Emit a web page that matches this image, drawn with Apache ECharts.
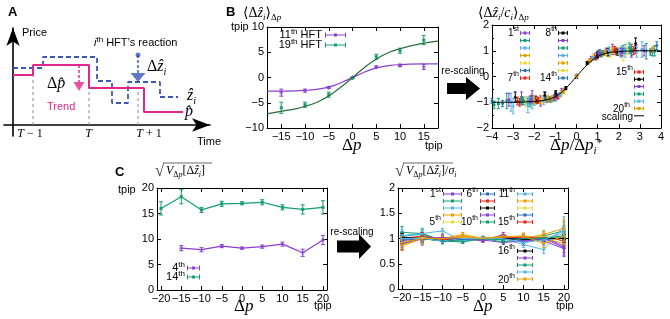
<!DOCTYPE html>
<html><head><meta charset="utf-8">
<script src="https://cdn.jsdelivr.net/npm/echarts@6/dist/echarts.min.js"></script>
<style>html,body{margin:0;padding:0;background:#fff}#c{width:670px;height:319px}</style>
</head><body><div id="c"></div>
<script>
// ================= DATA =================
// Panel A (schematic, time units / price units)
const trendPath    = [[0,5.0],[1.0,6.0],[3.8,3.7],[6.55,1.3],[8.5,1.3]];
const reactionPath = [[0,5.7],[1.5,6.8],[4.2,4.4],[4.95,2.2],[5.75,4.3],[7.35,2.8],[8.25,2.8]];
const timeMarks    = [1.0, 3.8, 6.25];
const timeGuideTop = [5.0, 3.7, 3.7];
const timeLabelPos = [0.85, 3.78, 6.8];
const timeLabels   = ['T − 1', 'T', 'T + 1'];
const dpArrow      = [[3.3,6.0],[3.3,4.3]];
const dpArrowHead  = [[3.3,3.85]];
const dzArrow      = [[6.25,7.0],[6.25,5.1]];
const dzArrowHead  = [[6.25,4.75]];

// Panel B left
const dpB      = [-15,-10,-5,0,5,10,15];
const hft11    = [-3.0,-2.6,-2.0,0.0,2.1,2.4,2.1];
const hft11Err = [0.7,0.3,0.2,0.1,0.2,0.25,0.5];
const hft19    = [-6.0,-5.4,-3.4,-0.1,4.1,5.3,7.4];
const hft19Err = [1.1,0.5,0.5,0.15,0.5,0.5,0.9];
const fitX     = [-18,-15,-12,-10,-8,-6,-4,-2,0,2,4,6,8,10,12,15,18];
const fit11    = [-2.7,-2.7,-2.65,-2.55,-2.4,-2.1,-1.6,-0.85,0,0.85,1.6,2.1,2.4,2.55,2.65,2.7,2.7];
const fit19    = [-7.2,-6.7,-6.2,-5.7,-5.1,-4.2,-3.0,-1.6,0,1.6,3.0,4.2,5.1,5.7,6.2,6.8,7.2];
const tickB    = [-15,-10,-5,0,5,10,15];

// Panel B right: [x = dp/dp*, y, err] per HFT (1st..20th)
const rescaledPoints = [
 [[-2.6,-0.85,0.25],[-1.7,-0.95,0.2],[-0.85,-0.75,0.1],[0,0.02,0.05],[0.85,0.8,0.1],[1.7,1.05,0.2],[2.6,1.0,0.25]],
 [[-3.7,-1.05,0.2],[-2.5,-0.95,0.15],[-1.2,-0.9,0.1],[0,-0.02,0.05],[1.2,0.9,0.1],[2.5,1.1,0.2],[3.7,1.0,0.2]],
 [[-3.1,-1.0,0.35],[-2.1,-1.05,0.2],[-1.0,-0.8,0.12],[0,0.0,0.04],[1.0,0.88,0.12],[2.1,0.95,0.2],[3.1,1.05,0.3]],
 [[-1.9,-0.92,0.15],[-1.25,-0.88,0.1],[-0.62,-0.6,0.07],[0,0.0,0.03],[0.62,0.62,0.07],[1.25,0.9,0.1],[1.9,0.98,0.15]],
 [[-2.2,-0.95,0.2],[-1.45,-0.9,0.12],[-0.73,-0.7,0.08],[0,0.01,0.03],[0.73,0.7,0.08],[1.45,0.9,0.12],[2.2,0.85,0.25]],
 [[-4.0,-0.95,0.1],[-2.6,-0.9,0.12],[-1.3,-0.88,0.08],[0,0,0.03],[1.3,0.92,0.08],[2.6,0.95,0.12],[3.8,1.2,0.15]],
 [[-2.8,-0.95,0.15],[-1.85,-0.92,0.12],[-0.92,-0.78,0.08],[0,0.02,0.03],[0.92,0.72,0.08],[1.85,0.98,0.12],[2.8,1.05,0.15]],
 [[-2.9,-0.8,0.2],[-1.95,-0.88,0.12],[-0.98,-0.65,0.1],[0,-0.02,0.03],[0.98,0.85,0.1],[1.95,0.95,0.12],[2.8,1.3,0.2]],
 [[-2.1,-0.75,0.2],[-1.4,-0.9,0.1],[-0.7,-0.55,0.08],[0,0.05,0.03],[0.7,0.7,0.08],[1.4,1.0,0.1],[2.1,0.95,0.15]],
 [[-3.3,-0.95,0.3],[-2.2,-0.98,0.2],[-1.1,-0.85,0.1],[0,0,0.04],[1.1,0.95,0.1],[2.2,1.05,0.15],[3.3,0.98,0.3]],
 [[-3.0,-1.15,0.3],[-2.0,-0.97,0.15],[-1.0,-0.86,0.1],[0,0.0,0.04],[1.0,0.78,0.1],[2.0,0.98,0.12],[2.85,0.95,0.2]],
 [[-1.7,-0.95,0.12],[-1.15,-0.85,0.1],[-0.57,-0.5,0.06],[0,0.03,0.03],[0.57,0.55,0.06],[1.15,0.85,0.1],[1.7,1.0,0.12]],
 [[-2.4,-0.98,0.2],[-1.6,-0.88,0.15],[-0.8,-0.75,0.08],[0,0.0,0.03],[0.8,0.8,0.08],[1.6,0.9,0.15],[2.4,1.05,0.2]],
 [[-3.5,-1.05,0.12],[-2.3,-0.95,0.1],[-1.5,-0.72,0.1],[0,0,0.03],[1.15,0.85,0.08],[2.3,1.0,0.1],[3.5,0.95,0.12]],
 [[-2.7,-1.0,0.15],[-1.8,-0.93,0.1],[-0.9,-0.8,0.08],[0,0,0.03],[0.9,0.75,0.08],[1.8,1.05,0.12],[2.7,1.0,0.15]],
 [[-1.5,-0.75,0.15],[-1.0,-0.7,0.1],[-0.5,-0.45,0.06],[0,0,0.03],[0.5,0.52,0.06],[1.0,0.82,0.1],[1.5,0.95,0.15]],
 [[-3.2,-0.9,0.25],[-2.15,-0.88,0.15],[-1.05,-0.82,0.1],[0,0,0.04],[1.05,0.9,0.1],[2.15,0.95,0.15],[3.2,1.0,0.2]],
 [[-3.9,-1.1,0.15],[-2.6,-0.95,0.12],[-1.3,-0.9,0.08],[0,0,0.03],[1.3,0.9,0.08],[2.6,1.05,0.12],[3.6,0.95,0.15]],
 [[-2.3,-1.1,0.3],[-1.55,-0.95,0.15],[-0.78,-0.7,0.08],[0,0,0.04],[0.78,0.7,0.08],[1.55,1.0,0.15],[2.3,1.0,0.25]],
 [[-2.0,-0.9,0.15],[-1.35,-0.85,0.1],[-0.67,-0.6,0.06],[0,0.02,0.03],[0.67,0.62,0.06],[1.35,0.92,0.1],[3.6,1.05,0.1]]
];
const scalingX = [-4,-3,-2.5,-2,-1.5,-1,-0.5,0,0.5,1,1.5,2,2.5,3,4];
const scalingY = [-1,-1,-0.99,-0.97,-0.92,-0.78,-0.45,0,0.45,0.78,0.92,0.97,0.99,1,1];

// Panel C left
const dpC      = [-20,-15,-10,-5,0,5,10,15,20];
const vol14    = [16.0,18.3,15.7,16.9,17.0,17.2,16.2,15.8,16.2];
const vol14Err = [1.3,1.4,0.5,0.5,0.3,0.5,0.5,0.9,1.3];
const vol4     = [null,8.2,7.9,8.6,8.2,8.5,9.0,7.3,9.8];
const vol4Err  = [null,0.5,0.4,0.3,0.2,0.3,0.4,0.7,0.9];
const tickC    = [-20,-15,-10,-5,0,5,10,15,20];

// Panel C right (normalised), one row per HFT
const normVol = [
 [0.95,1.02,1.0,1.03,0.98,1.05,1.0,0.95,0.8],
 [1.12,1.1,0.95,0.97,1.0,0.98,0.99,1.05,1.15],
 [1.05,1.08,0.93,1.0,1.0,1.02,0.95,0.98,1.1],
 [0.85,1.0,1.0,1.05,1.0,1.03,1.05,1.0,0.9],
 [1.0,0.98,0.97,1.02,1.0,1.0,1.02,1.05,0.95],
 [0.9,1.05,0.95,1.0,1.0,1.0,1.0,1.0,1.05],
 [1.0,1.0,0.98,1.0,1.0,1.02,1.0,1.05,0.95],
 [1.03,1.0,0.97,1.0,1.0,1.0,0.97,1.0,1.0],
 [1.0,0.97,1.02,1.0,0.95,1.08,0.92,1.02,0.85],
 [1.05,1.1,0.95,0.95,1.0,0.97,1.0,1.02,1.0],
 [1.05,1.1,1.15,0.95,1.02,1.0,0.88,0.78,1.25],
 [0.88,1.0,1.0,1.08,1.0,1.05,1.0,1.08,1.2],
 [1.0,1.02,0.98,1.02,1.0,1.0,1.0,1.05,1.0],
 [0.98,1.0,1.0,0.98,1.0,1.0,1.0,0.97,1.02],
 [1.0,1.05,0.98,1.0,1.0,1.0,1.03,1.0,1.0],
 [1.02,1.0,0.95,1.0,1.0,1.0,0.98,1.0,1.0],
 [0.9,1.0,1.02,1.0,0.97,0.92,0.95,1.0,0.82],
 [1.0,1.0,0.95,0.93,1.0,0.93,1.0,1.0,1.05],
 [1.0,1.0,0.95,1.0,1.0,1.0,0.92,0.97,1.15],
 [0.92,1.0,1.0,1.03,1.0,1.03,1.05,0.9,1.05]
];
const normErrA = [0.08,0.07,0.04,0.03,0.03,0.03,0.04,0.06,0.08];
const normErrB = [0.12,0.1,0.05,0.04,0.03,0.04,0.06,0.08,0.18];
const normErrSet = [0,1,0,0,0,0,0,0,1,0,1,1,0,0,0,0,1,0,0,1];

// ================= STYLE =================
const FS = 'Liberation Sans, Arial, Helvetica, sans-serif';
const SERIF = 'Liberation Serif, DejaVu Serif, Times New Roman, serif';
const pal = ['#8a3fd1','#139e73','#56b4e9','#e69f00','#e8da3c','#2d72b8','#e5251a','#000000'];
const markers = ['plus','rect','rect','rect','rect','circle','circle','triangle','plus','tridown','plus','circle','plus','circle','circle','circle','circle','circle','rect','circle'];
const MAGENTA = '#e3268b', BLUE = '#3a58b5';

const minus = v => String(v).replace('-', '−');

// ================= AXES =================
const xAxes = [], yAxes = [];
function tickFmt(v) { return minus(Math.round(v * 100) / 100); }
function boxAxes(gi, xr, yr) {
  const base = (pos, r, labeled) => {
    const ax = {
      gridIndex: gi, type: 'value', position: pos, min: r.min, max: r.max,
      axisLine: { onZero: false, lineStyle: { color: '#000', width: 1 } },
      axisTick: { inside: true, length: 4, lineStyle: { color: '#000', width: 1 } },
      axisLabel: { show: labeled, color: '#000', fontSize: 11, fontFamily: FS, margin: 3, formatter: tickFmt },
      splitLine: { show: false }
    };
    if (r.custom) { ax.axisTick.customValues = r.custom; ax.axisLabel.customValues = r.custom; }
    else ax.interval = r.interval;
    if (r.minor) ax.minorTick = { show: true, splitNumber: r.minor, length: 2, lineStyle: { color: '#000' } };
    return ax;
  };
  const xi = xAxes.length, yi = yAxes.length;
  xAxes.push(base('bottom', xr, true), base('top', xr, false));
  yAxes.push(base('left', yr, true), base('right', yr, false));
  return { xi, yi };
}

// Panel A axes
xAxes.push({
  gridIndex: 0, type: 'value', min: -0.45, max: 9.85,
  axisLine: { onZero: true, symbol: ['none', 'arrow'], symbolSize: [10, 18], lineStyle: { color: '#000', width: 1.6 } },
  axisTick: { show: false }, splitLine: { show: false },
  axisLabel: { customValues: timeLabelPos, margin: -8, color: '#000',
    formatter: v => { const i = timeLabelPos.indexOf(v); if (i < 0) return ''; const s = timeLabels[i]; return '{i|T}' + (s.length > 1 ? '{u|' + s.slice(1) + '}' : ''); },
    rich: { i: { fontFamily: SERIF, fontStyle: 'italic', fontSize: 12 }, u: { fontFamily: SERIF, fontSize: 12 } } }
});
yAxes.push({
  gridIndex: 0, type: 'value', min: -1.1, max: 9.7,
  axisLine: { onZero: true, symbol: ['none', 'arrow'], symbolSize: [10, 18], lineStyle: { color: '#000', width: 1.6 } },
  axisTick: { show: false }, splitLine: { show: false }, axisLabel: { show: false }
});

const axBL = boxAxes(1, { min: -18, max: 18, custom: tickB }, { min: -10, max: 10, interval: 5 });
const axBR = boxAxes(2, { min: -4, max: 4, interval: 1 }, { min: -2, max: 2, interval: 1, minor: 2 });
const axCL = boxAxes(3, { min: -21, max: 21, custom: tickC }, { min: 0, max: 20, interval: 5 });
const axCR = boxAxes(4, { min: -21, max: 21, custom: tickC }, { min: 0, max: 2, interval: 0.5 });

// ================= SERIES HELPERS =================
function markerShape(type, c, s, col) {
  const h = s / 2;
  switch (type) {
    case 'circle': return { type: 'circle', shape: { cx: c[0], cy: c[1], r: h }, style: { fill: col } };
    case 'triangle': return { type: 'polygon', shape: { points: [[c[0], c[1] - h - 0.5], [c[0] + h + 0.5, c[1] + h], [c[0] - h - 0.5, c[1] + h]] }, style: { fill: col } };
    case 'tridown': return { type: 'polygon', shape: { points: [[c[0], c[1] + h + 0.5], [c[0] + h + 0.5, c[1] - h], [c[0] - h - 0.5, c[1] - h]] }, style: { fill: col } };
    case 'plus': return { type: 'path', shape: { pathData: `M${c[0]-h-0.5},${c[1]}H${c[0]+h+0.5}M${c[0]},${c[1]-h-0.5}V${c[1]+h+0.5}` }, style: { stroke: col, lineWidth: 1, fill: null } };
    default: return { type: 'rect', shape: { x: c[0] - h, y: c[1] - h, width: s, height: s }, style: { fill: col } };
  }
}
function errSeries(name, ax, data, color, marker, msize, capW) {
  return {
    type: 'custom', name, xAxisIndex: ax.xi, yAxisIndex: ax.yi, data, itemStyle: { color }, z: 3, clip: false,
    renderItem: (params, api) => {
      const x = api.value(0), y = api.value(1), e = api.value(2);
      const c = api.coord([x, y]), lo = api.coord([x, y - e]), hi = api.coord([x, y + e]);
      const col = api.visual('color');
      const st = { stroke: col, lineWidth: 1, fill: null };
      return { type: 'group', children: [
        { type: 'line', shape: { x1: c[0], y1: lo[1], x2: c[0], y2: hi[1] }, style: st },
        { type: 'line', shape: { x1: c[0] - capW, y1: lo[1], x2: c[0] + capW, y2: lo[1] }, style: st },
        { type: 'line', shape: { x1: c[0] - capW, y1: hi[1], x2: c[0] + capW, y2: hi[1] }, style: st },
        markerShape(marker, c, msize, col)
      ] };
    }
  };
}
const zip = (xs, ys, es) => xs.map((x, i) => ys[i] == null ? null : (es ? [x, ys[i], es[i]] : [x, ys[i]])).filter(d => d);

// legend icon: error-bar sample (box w x h, bounding forced by moveTo corners)
function ebIcon(w, h, capH) {
  const m = h / 2, c0 = m - capH / 2, c1 = m + capH / 2;
  return `path://M0,0M${w},${h}M0,${c0}H1V${c1}H0Z M${w-1},${c0}H${w}V${c1}H${w-1}Z M0,${m-0.5}H${w}V${m+0.5}H0Z M${w/2-1.5},${m-1.5}H${w/2+1.5}V${m+1.5}H${w/2-1.5}Z`;
}
function lineIcon(w, h) { const m = h / 2; return `path://M0,0M${w},${h}M0,${m-0.5}H${w}V${m+0.5}H0Z`; }

const series = [];
// ---- Panel A ----
const aAx = { xAxisIndex: 0, yAxisIndex: 0 };
timeMarks.forEach((t, i) => series.push(Object.assign({ type: 'line', data: [[t, 0], [t, timeGuideTop[i]]], symbol: 'none', silent: true,
  lineStyle: { color: '#8a8a8a', width: 1, type: [3, 3] } }, aAx)));
series.push(Object.assign({ type: 'line', name: 'reaction', data: reactionPath, step: 'end', symbol: 'none',
  lineStyle: { color: BLUE, width: 1.8, type: [5, 3] } }, aAx));
series.push(Object.assign({ type: 'line', name: 'trend', data: trendPath, step: 'end', symbol: 'none',
  lineStyle: { color: MAGENTA, width: 2 } }, aAx));
series.push(Object.assign({ type: 'line', data: dpArrow, symbol: 'none', lineStyle: { color: MAGENTA, width: 1.5, type: [3, 2] } }, aAx));
series.push(Object.assign({ type: 'scatter', data: dpArrowHead, symbol: 'triangle', symbolRotate: 180, symbolSize: [11, 9], itemStyle: { color: MAGENTA } }, aAx));
series.push(Object.assign({ type: 'line', data: dzArrow, symbol: 'none', lineStyle: { color: BLUE, width: 1.5, type: [3, 2] } }, aAx));
series.push(Object.assign({ type: 'scatter', data: [dzArrow[0]], symbol: 'circle', symbolSize: 5, itemStyle: { color: BLUE } }, aAx));
series.push(Object.assign({ type: 'scatter', data: dzArrowHead, symbol: 'triangle', symbolRotate: 180, symbolSize: [15, 9], itemStyle: { color: BLUE } }, aAx));

// ---- Panel B left ----
series.push({ type: 'line', name: '11th HFT', xAxisIndex: axBL.xi, yAxisIndex: axBL.yi, data: zip(fitX, fit11), smooth: 0.4, symbol: 'none', lineStyle: { color: pal[0], width: 1.2 }, itemStyle: { color: pal[0] } });
series.push({ type: 'line', name: '19th HFT', xAxisIndex: axBL.xi, yAxisIndex: axBL.yi, data: zip(fitX, fit19), smooth: 0.4, symbol: 'none', lineStyle: { color: '#2a6e35', width: 1.2 }, itemStyle: { color: pal[1] } });
series.push(errSeries('11th HFT', axBL, zip(dpB, hft11, hft11Err), pal[0], 'plus', 3, 2));
series.push(errSeries('19th HFT', axBL, zip(dpB, hft19, hft19Err), pal[1], 'rect', 3, 2));

// ---- Panel B right ----
rescaledPoints.forEach((pts, i) => series.push(errSeries('B' + (i + 1), axBR, pts, pal[i % 8], markers[i], 3, 1.5)));
series.push({ type: 'line', name: 'scaling', xAxisIndex: axBR.xi, yAxisIndex: axBR.yi, data: zip(scalingX, scalingY), smooth: 0.4, symbol: 'none', z: 4, lineStyle: { color: '#000', width: 1 }, itemStyle: { color: '#000' } });

// ---- Panel C left ----
[['4th', vol4, vol4Err, pal[0], 'plus'], ['14th', vol14, vol14Err, pal[1], 'rect']].forEach(([nm, ys, es, col, mk]) => {
  series.push({ type: 'line', name: nm, xAxisIndex: axCL.xi, yAxisIndex: axCL.yi, data: zip(dpC, ys), symbol: 'none', lineStyle: { color: col, width: 1.2 }, itemStyle: { color: col } });
  series.push(errSeries(nm, axCL, zip(dpC, ys, es), col, mk, 3, 2));
});

// ---- Panel C right ----
normVol.forEach((ys, i) => {
  const col = pal[i % 8], nm = 'C' + (i + 1);
  const es = normErrSet[i] ? normErrB : normErrA;
  series.push({ type: 'line', name: nm, xAxisIndex: axCR.xi, yAxisIndex: axCR.yi, data: zip(dpC, ys), symbol: 'none', lineStyle: { color: col, width: 1 }, itemStyle: { color: col } });
  series.push(errSeries(nm, axCR, zip(dpC, ys, es), col, markers[i], 3, 1.5));
});

// ================= LEGENDS (samples; labels drawn as rich text below) =================
function mkLegend(names, right, top, w, h, gap, iconFn) {
  return {
    data: names.map(n => ({ name: n, icon: n === 'scaling' ? lineIcon(w, h) : iconFn(n) })),
    orient: 'vertical', align: 'right', right, top, itemWidth: w, itemHeight: h, itemGap: gap, padding: 0,
    symbolKeepAspect: false, selectedMode: false, formatter: () => '', inactiveColor: '#000',
    textStyle: { fontSize: 1, lineHeight: 1 }
  };
}
const range = (p, a, b) => { const r = []; for (let i = a; i <= b; i++) r.push(p + i); return r; };
const legends = [
  mkLegend(['11th HFT', '19th HFT'], 670 - 346, 30, 21, 10, 0, () => ebIcon(21, 10, 5)),
  mkLegend(range('B', 1, 7), 670 - 530, 29.5, 10, 7, 0.5, () => ebIcon(10, 7, 4)),
  mkLegend(range('B', 8, 14), 670 - 568, 29.5, 10, 7, 0.5, () => ebIcon(10, 7, 4)),
  mkLegend(range('B', 15, 20).concat(['scaling']), 670 - 644, 68.5, 10, 7, 0.3, () => ebIcon(10, 7, 4)),
  mkLegend(['4th', '14th'], 670 - 200, 263.5, 13, 9, 0, () => ebIcon(13, 9, 5)),
  mkLegend(range('C', 1, 5), 670 - 462, 190.5, 19, 7, 0, () => ebIcon(19, 7, 4)),
  mkLegend(range('C', 6, 10), 670 - 495, 190.5, 15, 7, 0, () => ebIcon(15, 7, 4)),
  mkLegend(range('C', 11, 15), 670 - 533, 190.5, 16, 7, 0, () => ebIcon(16, 7, 4)),
  mkLegend(range('C', 16, 20), 670 - 533, 247.5, 16, 7, 0, () => ebIcon(16, 7, 4))
];
// legend labels: [right edge x, centre y, text, font size]
const legendLabels = [
  [322, 35, '11th HFT', 11], [322, 45, '19th HFT', 11],
  [519, 33, '1st', 10], [519, 78, '7th', 10], [557, 33, '8th', 10], [557, 78, '14th', 10],
  [633, 72, '15th', 10], [630, 109, '20th', 10], [633, 117, 'scaling', 10],
  [185, 268, '4th', 11], [185, 277, '14th', 11],
  [441, 194, '1st', 10], [441, 222, '5th', 10], [478, 194, '6th', 10], [478, 222, '10th', 10],
  [515, 194, '11th', 10], [515, 222, '15th', 10], [515, 251, '16th', 10], [515, 280, '20th', 10]
];

// ================= TEXT / ANNOTATIONS =================
function mathRich(size, color) {
  const L = size + 2, ss = Math.round(size * 0.65);
  const b = { fontFamily: SERIF, color };
  return {
    u: Object.assign({ fontSize: size, lineHeight: L, verticalAlign: 'top' }, b),
    i: Object.assign({ fontSize: size, lineHeight: L, verticalAlign: 'top', fontStyle: 'italic' }, b),
    sb: Object.assign({ fontSize: ss, lineHeight: ss, verticalAlign: 'bottom' }, b),
    sbi: Object.assign({ fontSize: ss, lineHeight: ss, verticalAlign: 'bottom', fontStyle: 'italic' }, b),
    sp: Object.assign({ fontSize: ss, lineHeight: ss, verticalAlign: 'top' }, b)
  };
}
function supRich(fs, color) {
  return {
    n: { fontFamily: FS, fontSize: fs, lineHeight: fs + 2, verticalAlign: 'bottom', color },
    ni: { fontFamily: FS, fontSize: fs, lineHeight: fs + 2, verticalAlign: 'bottom', fontStyle: 'italic', color },
    s: { fontFamily: FS, fontSize: Math.round(fs * 0.72), lineHeight: 6, verticalAlign: 'top', color }
  };
}
function supMarkup(lab) {
  const m = lab.match(/^(\d+)(st|nd|rd|th)(.*)$/);
  if (!m) return '{n|' + lab + '}';
  return '{n|' + m[1] + '}{s|' + m[2] + '}' + (m[3] ? '{n|' + m[3] + '}' : '');
}
function richText(x, y, text, rich, align) {
  return { type: 'text', x, y, silent: true, style: { text, rich, align: align || 'left', verticalAlign: 'middle', textAlign: align || 'left', textVerticalAlign: 'middle' } };
}
function plain(x, y, text, opt) {
  opt = opt || {};
  return { type: 'text', x, y, silent: true, style: { text, fill: opt.color || '#000', font: (opt.weight || 'normal') + ' ' + (opt.size || 11) + 'px ' + (opt.family || FS),
    align: opt.align || 'left', verticalAlign: 'middle', textAlign: opt.align || 'left', textVerticalAlign: 'middle' } };
}
const TC = '#222', GC = '#444';
const graphic = [
  // Panel A
  plain(8, 12, 'A', { weight: 'bold', size: 13 }),
  plain(22, 33, 'Price', { size: 11 }),
  richText(94, 42, '{ni|i}{s|th}{n| HFT\u2019s reaction}', supRich(11, BLUE)),
  richText(147, 68, '{u|Δ}{i|ẑ}{sbi|i}', mathRich(16, BLUE)),
  richText(47, 85, '{u|Δ}{i|p\u0302}', mathRich(16, MAGENTA)),
  plain(47, 107, 'Trend', { size: 11, color: MAGENTA }),
  richText(187, 97, '{i|ẑ}{sbi|i}', mathRich(16, BLUE)),
  richText(185, 113, '{i|p\u0302}', mathRich(16, MAGENTA)),
  plain(197, 142, 'Time', { size: 11 }),
  // Panel B
  plain(226, 12, 'B', { weight: 'bold', size: 13 }),
  richText(243, 14, '{u|⟨Δ}{i|ẑ}{sbi|i}{u|⟩}{sb|Δ}{sbi|p}', mathRich(14, TC)),
  plain(231, 27, 'tpip', { size: 11 }),
  richText(342, 147, '{u|Δ}{i|p}', mathRich(17, '#111')),
  plain(425, 146, 'tpip', { size: 11 }),
  richText(478, 14, '{u|⟨Δ}{i|ẑ}{sbi|i}{u|/}{i|c}{sbi|i}{u|⟩}{sb|Δ}{sbi|p}', mathRich(14, TC)),
  richText(550, 147, '{u|Δ}{i|p}{u|/Δ}{i|p}{sbi|i}{sp|*}', mathRich(17, '#111')),
  plain(463, 71, 're-scaling', { size: 10, align: 'center' }),
  { type: 'polygon', silent: true, shape: { points: [[447, 83], [466, 83], [466, 77], [480, 88.5], [466, 100], [466, 94], [447, 94]] }, style: { fill: '#000' } },
  // Panel C
  plain(115, 172, 'C', { weight: 'bold', size: 13 }),
  plain(118, 190, 'tpip', { size: 11 }),
  plain(155, 172, '√', { size: 17, family: SERIF, color: GC }),
  { type: 'line', silent: true, shape: { x1: 164, y1: 163, x2: 212, y2: 163 }, style: { stroke: GC, lineWidth: 0.8 } },
  richText(166, 172, '{i|V}{sb|Δ}{sbi|p}{u|[Δ}{i|ẑ}{sbi|i}{u|]}', mathRich(12, GC)),
  richText(234, 308, '{u|Δ}{i|p}', mathRich(17, '#111')),
  plain(314, 306, 'tpip', { size: 11 }),
  plain(395, 172, '√', { size: 17, family: SERIF, color: GC }),
  { type: 'line', silent: true, shape: { x1: 404, y1: 163, x2: 453, y2: 163 }, style: { stroke: GC, lineWidth: 0.8 } },
  richText(406, 172, '{i|V}{sb|Δ}{sbi|p}{u|[Δ}{i|ẑ}{sbi|i}{u|]/}{i|σ}{sbi|i}', mathRich(12, GC)),
  richText(473, 308, '{u|Δ}{i|p}', mathRich(17, '#111')),
  plain(556, 306, 'tpip', { size: 11 }),
  plain(352, 232, 're-scaling', { size: 10, align: 'center' }),
  { type: 'polygon', silent: true, shape: { points: [[337, 240.5], [359, 240.5], [359, 234], [371, 246.5], [359, 259], [359, 252.5], [337, 252.5]] }, style: { fill: '#000' } }
];
legendLabels.forEach(([x, y, t, fs]) => graphic.push(richText(x, y - 1, supMarkup(t), supRich(fs, '#000'), 'right')));

// ================= CHART =================
const chart = echarts.init(document.getElementById('c'), null, { renderer: 'canvas' });
chart.setOption({
  animation: false,
  backgroundColor: '#fff',
  grid: [
    { left: 4, top: 28, width: 206, height: 108 },
    { left: 267, top: 27, width: 171, height: 101 },
    { left: 492, top: 25, width: 169, height: 103 },
    { left: 157, top: 188, width: 170, height: 102 },
    { left: 398, top: 188, width: 170, height: 101 }
  ],
  xAxis: xAxes, yAxis: yAxes, series, legend: legends, graphic
});
</script></body></html>
